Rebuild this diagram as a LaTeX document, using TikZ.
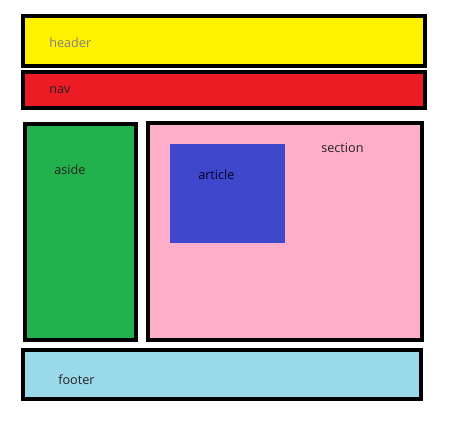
\documentclass[tikz,border=0pt]{standalone}
\usepackage{fontspec}
\setmainfont{Open Sans}
\definecolor{cyellow}{HTML}{FFF200}
\definecolor{cred}{HTML}{ED1C24}
\definecolor{cgreen}{HTML}{22B14C}
\definecolor{cpink}{HTML}{FFAEC9}
\definecolor{cblue}{HTML}{3F48CC}
\definecolor{clblue}{HTML}{99D9EA}
\definecolor{ctext}{HTML}{222222}
\begin{document}
\begin{tikzpicture}[x=0.75pt,y=-0.75pt,
  box/.style={draw=black,line width=3pt,rectangle,inner sep=0pt,outer sep=0pt},
  plain/.style={rectangle,inner sep=0pt,outer sep=0pt},
  lbl/.style={anchor=west,inner sep=0pt,font=\fontsize{9.5}{11}\selectfont,text=ctext}]
\useasboundingbox (0,0) rectangle (465,433);
\fill[white] (0,0) rectangle (465,433);
\node[box,fill=cyellow,minimum width=402*0.75pt,minimum height=50*0.75pt] (header) at (224,41) {};
\node[box,fill=cred,minimum width=402*0.75pt,minimum height=36*0.75pt] (nav) at (224,90) {};
\node[box,fill=cgreen,minimum width=111*0.75pt,minimum height=216*0.75pt] (aside) at (80.5,232) {};
\node[box,fill=cpink,minimum width=274*0.75pt,minimum height=217*0.75pt] (section) at (285,231.5) {};
\node[plain,fill=cblue,minimum width=115*0.75pt,minimum height=99*0.75pt] (article) at (227.5,193.5) {};
\node[box,fill=clblue,minimum width=398*0.75pt,minimum height=49*0.75pt] (footer) at (222,374.5) {};
\node[lbl,text=gray] (theader) at (49,43) {header};
\node[lbl] (tnav) at (49,90) {nav};
\node[lbl] (taside) at (54,170) {aside};
\node[lbl,text=black!85!blue] (tarticle) at (198,175) {article};
\node[lbl] (tsection) at (321,148) {section};
\node[lbl] (tfooter) at (58,380) {footer};
\end{tikzpicture}
\end{document}
